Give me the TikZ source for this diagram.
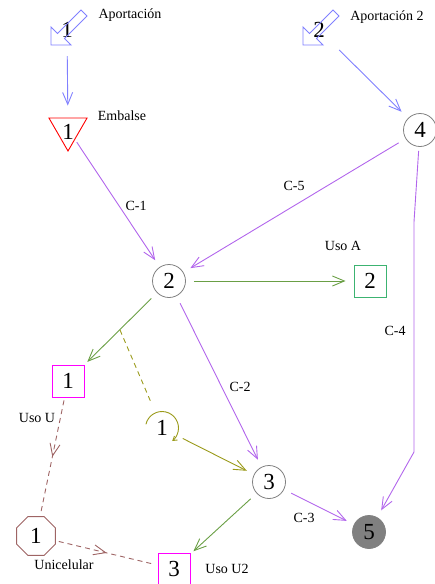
\documentclass[tikz,border=0pt]{standalone}
\usepackage{fontspec}
\setmainfont{Liberation Serif}
\usetikzlibrary{arrows.meta,shapes.geometric,decorations.markings}
\definecolor{cblue}{HTML}{8080FF}
\definecolor{cpurple}{HTML}{B266EC}
\definecolor{cgreen}{HTML}{6A9F45}
\definecolor{cseagreen}{HTML}{3CB371}
\definecolor{cmag}{HTML}{FF00FF}
\definecolor{cbrown}{HTML}{9E6464}
\definecolor{colive}{HTML}{9A9A1A}
\definecolor{cgray}{HTML}{808080}
\begin{document}
\begin{tikzpicture}[x=1pt,y=-1pt,
  num/.style={font=\fontsize{23}{23}\selectfont, inner sep=0pt},
  lbl/.style={font=\fontsize{14}{14}\selectfont, inner sep=0pt},
  circ/.style={num, circle, draw=cgray, minimum size=33pt, line width=0.8pt},
  boxnode/.style={num, rectangle, minimum size=32pt, line width=0.9pt},
  tip/.style={-{Straight Barb[length=12pt,width=10pt]}},
  edge/.style={line width=0.9pt, tip, shorten <=8pt, shorten >=8pt},
  midarrow/.style={postaction={decorate, decoration={markings,
     mark=at position 0.5 with {\arrow{Straight Barb[length=12pt,width=10pt]}}}}},
  dashededge/.style={line width=0.9pt, dash pattern=on 5pt off 4pt, shorten <=3pt, shorten >=3pt, midarrow},
  aparrow/.pic={\draw[cblue, line width=0.9pt, line join=miter]
     (-16,15) -- (4,15) -- (-2.5,8.5) -- (20,-14) -- (14,-20) -- (-9.5,3.5) -- (-16,-3) -- cycle;}
]
\useasboundingbox (0,0) rectangle (435,584);

% nodes
\node[num, minimum width=40pt, minimum height=44pt] (ap1) at (67,30) {1};
\pic at (ap1.center) {aparrow};
\node[num, minimum width=40pt, minimum height=44pt] (ap2) at (319,30) {2};
\pic at (ap2.center) {aparrow};

\node[num, regular polygon, regular polygon sides=3, shape border rotate=180,
      draw=red, line width=0.9pt, minimum size=44pt] (emb) at (68,129) {};
\node[num] (embtxt) at (68,132) {1};

\node[circ] (n4) at (420,130) {4};
\node[circ] (n2) at (169,281) {2};
\node[circ] (n3) at (269,482) {3};
\node[circ, fill=cgray, draw=cgray] (n5) at (369,532) {5};

\node[boxnode, draw=cseagreen] (usoA) at (370,281) {2};
\node[boxnode, draw=cmag] (usoU) at (68,381) {1};
\node[boxnode, draw=cmag] (usoU2) at (174,569) {3};

\node[num, regular polygon, regular polygon sides=8, draw=cbrown, line width=0.9pt,
      minimum size=42pt] (uni) at (36,536) {1};

\node[num, circle, minimum size=34pt] (l1) at (162,428) {1};
\draw[colive, line width=0.9pt, -{Straight Barb[length=4pt,width=5pt]}]
   ([shift={(167:16.5pt)}]l1.center) arc[start angle=167, end angle=-52, radius=16.5pt];

% labels
\node[lbl] (lap1) at (130,15) {Aportación};
\node[lbl] (lemb) at (122,116) {Embalse};
\node[lbl] (lap2) at (387,17) {Aportación 2};
\node[lbl] (lc5) at (294,186) {C-5};
\node[lbl] (lc1) at (136,206) {C-1};
\node[lbl] (lusoA) at (343,246) {Uso A};
\node[lbl] (lc4) at (395,331) {C-4};
\node[lbl] (lc2) at (240,387) {C-2};
\node[lbl] (lusoU) at (37,418) {Uso U};
\node[lbl] (luni) at (64,565) {Unicelular};
\node[lbl] (lc3) at (304,518) {C-3};
\node[lbl] (lusoU2) at (227,569) {Uso U2};

% coordinates
\coordinate (c4a) at (414,222);
\coordinate (c4b) at (414,452);
\coordinate (dstart) at (120,330);

% edges
\draw[edge, cblue, shorten <=4pt, shorten >=12pt] (ap1) -- (emb);
\draw[edge, cblue, shorten <=0pt, shorten >=9pt] (ap2) -- (n4);
\draw[edge, cpurple, shorten <=3pt] (emb) -- (n2);
\draw[edge, cpurple] (n4) -- (n2);
\draw[edge, cpurple, shorten <=4pt] (n4) -- (c4a) -- (c4b) -- (n5);
\draw[edge, cgreen] (n2) -- (usoA);
\draw[edge, cgreen, shorten >=4pt] (n2) -- (usoU);
\draw[edge, cpurple] (n2) -- (n3);
\draw[edge, cpurple] (n3) -- (n5);
\draw[edge, cgreen, shorten >=4pt] (n3) -- (usoU2);
\draw[edge, colive, shorten <=6pt] (l1) -- (n3);
\draw[colive, line width=0.9pt, dash pattern=on 5pt off 4pt, shorten >=10pt] (dstart) -- (l1);
\draw[dashededge, cbrown] (usoU) -- (uni);
\draw[dashededge, cbrown] (uni) -- (usoU2);
\end{tikzpicture}
\end{document}
